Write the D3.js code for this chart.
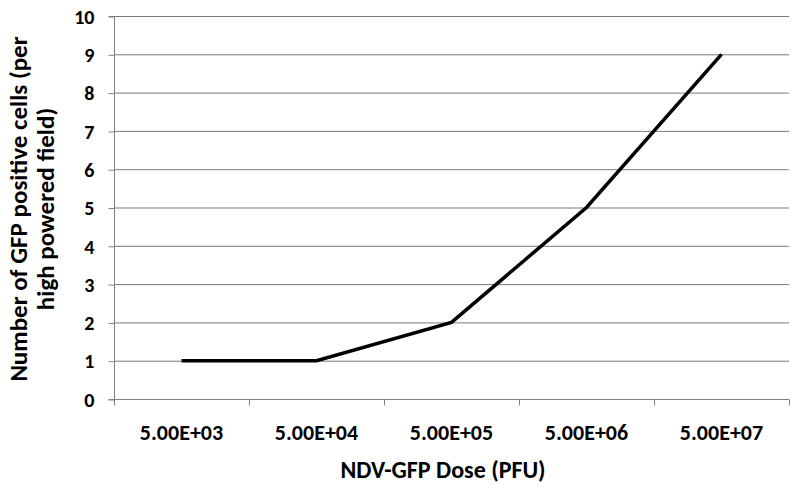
<!DOCTYPE html>
<html><head><meta charset="utf-8">
<script src="https://cdn.jsdelivr.net/npm/d3@7"></script>
<style>
body{margin:0;background:#fff;}
text{font-family:Carlito,Lato,"Open Sans",sans-serif;font-weight:bold;fill:#000;}
</style></head><body>
<svg id="c" width="800" height="495"></svg>
<script>
const categories = ["5.00E+03","5.00E+04","5.00E+05","5.00E+06","5.00E+07"];
const values = [1, 1, 2, 5, 9];
const yTicks = [0,1,2,3,4,5,6,7,8,9,10];

(function(){
const svg = d3.select("#c");
const pL = 114, pR = 789, pT = 16, pB = 399;
const x = d3.scaleBand().domain(categories).range([pL, pR]);
const y = d3.scaleLinear().domain([0, 10]).range([pB, pT]);

// gridlines
svg.append("g").selectAll("line").data(yTicks.filter(d=>d>0)).join("line")
  .attr("x1", pL).attr("x2", pR)
  .attr("y1", d=>y(d)+0.5).attr("y2", d=>y(d)+0.5)
  .attr("stroke", "#7a7a7a").attr("stroke-width", 1);

// y axis
const ya = svg.append("g").attr("transform", `translate(${pL+0.5},0)`)
  .call(d3.axisLeft(y).tickValues(yTicks).tickSize(6).tickPadding(14));
ya.selectAll("path,line").attr("stroke", "#808080");
ya.select(".domain").attr("d", `M-6,${pT+0.5}H0V${pB+0.5}H-6`);
ya.selectAll(".tick line").attr("transform","translate(0,0.5)");
ya.selectAll("text").style("font-size","20px").attr("dy","0.36em");

// x axis
const xa = svg.append("g").attr("transform", `translate(0,${pB+0.5})`);
xa.append("line").attr("x1", pL).attr("x2", pR).attr("stroke", "#808080");
const edges = categories.map(c=>x(c)).concat([pR]);
xa.selectAll(".tk").data(edges).join("line").attr("class","tk")
  .attr("x1", d=>d+0.5).attr("x2", d=>d+0.5).attr("y1",0).attr("y2",6)
  .attr("stroke", "#808080");
xa.selectAll(".lb").data(categories).join("text").attr("class","lb")
  .attr("x", d=>x(d)+x.bandwidth()/2).attr("y", 40)
  .attr("text-anchor","middle").style("font-size","22px").text(d=>d);

// line
const line = d3.line().x((d,i)=>x(categories[i])+x.bandwidth()/2).y(d=>y(d));
svg.append("path").datum(values).attr("d", line)
  .attr("fill","none").attr("stroke","#000").attr("stroke-width",3.5)
  .attr("stroke-linejoin","miter");

// titles
svg.append("text").attr("x", 443).attr("y", 478).attr("text-anchor","middle")
  .style("font-size","24px").text("NDV-GFP Dose (PFU)");
const yt = svg.append("text").attr("transform","translate(27,209) rotate(-90)")
  .attr("text-anchor","middle").style("font-size","25px");
yt.append("tspan").attr("x",0).attr("dy",0).text("Number of GFP positive cells (per");
yt.append("tspan").attr("x",0).attr("dy",27).text("high powered field)");
})();
</script></body></html>
